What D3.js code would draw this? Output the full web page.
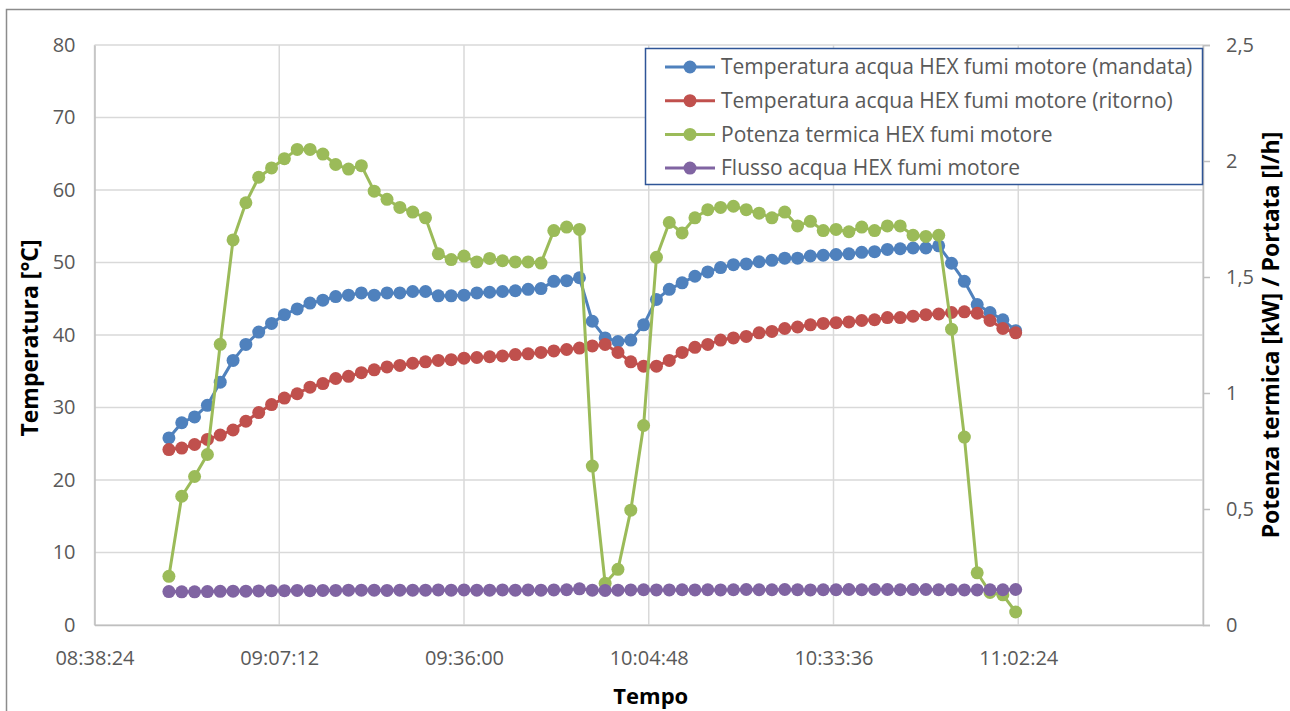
<!DOCTYPE html>
<html>
<head>
<meta charset="utf-8">
<script src="https://cdn.jsdelivr.net/npm/d3@7"></script>
<style>
  html, body { margin: 0; padding: 0; background: #fff; }
  svg { display: block; }
  text { font-family: "Open Sans", "Noto Sans", sans-serif; }
</style>
</head>
<body>
<svg id="chart" width="1290" height="711"></svg>
<script>
// Sampling times (every 2 minutes)
const times = [
  "08:50:00","08:52:00","08:54:00","08:56:00","08:58:00","09:00:00","09:02:00","09:04:00","09:06:00","09:08:00",
  "09:10:00","09:12:00","09:14:00","09:16:00","09:18:00","09:20:00","09:22:00","09:24:00","09:26:00","09:28:00",
  "09:30:00","09:32:00","09:34:00","09:36:00","09:38:00","09:40:00","09:42:00","09:44:00","09:46:00","09:48:00",
  "09:50:00","09:52:00","09:54:00","09:56:00","09:58:00","10:00:00","10:02:00","10:04:00","10:06:00","10:08:00",
  "10:10:00","10:12:00","10:14:00","10:16:00","10:18:00","10:20:00","10:22:00","10:24:00","10:26:00","10:28:00",
  "10:30:00","10:32:00","10:34:00","10:36:00","10:38:00","10:40:00","10:42:00","10:44:00","10:46:00","10:48:00",
  "10:50:00","10:52:00","10:54:00","10:56:00","10:58:00","11:00:00","11:02:00"
];

// Water temperature, exhaust HEX outlet (°C)
const tMandata = [
  25.8, 27.9, 28.7, 30.3, 33.5, 36.5, 38.7, 40.4, 41.6, 42.8,
  43.6, 44.4, 44.8, 45.3, 45.5, 45.8, 45.5, 45.8, 45.8, 46.0,
  46.0, 45.4, 45.4, 45.5, 45.8, 45.9, 46.0, 46.1, 46.3, 46.4,
  47.4, 47.5, 47.9, 41.9, 39.6, 39.1, 39.3, 41.4, 44.9, 46.3,
  47.2, 48.1, 48.7, 49.3, 49.7, 49.8, 50.1, 50.3, 50.6, 50.6,
  50.9, 51.0, 51.1, 51.2, 51.4, 51.5, 51.8, 51.9, 52.0, 52.0,
  52.3, 49.9, 47.4, 44.2, 43.1, 42.1, 40.6
];

// Water temperature, exhaust HEX return (°C)
const tRitorno = [
  24.2, 24.4, 24.9, 25.6, 26.2, 26.9, 28.1, 29.3, 30.4, 31.3,
  31.9, 32.8, 33.3, 34.0, 34.3, 34.8, 35.2, 35.6, 35.8, 36.1,
  36.3, 36.5, 36.6, 36.8, 36.9, 37.0, 37.1, 37.3, 37.4, 37.6,
  37.8, 38.0, 38.2, 38.5, 38.7, 37.6, 36.3, 35.7, 35.7, 36.5,
  37.6, 38.3, 38.7, 39.3, 39.6, 39.8, 40.3, 40.5, 40.9, 41.1,
  41.4, 41.6, 41.7, 41.8, 42.0, 42.1, 42.4, 42.4, 42.6, 42.8,
  42.9, 43.1, 43.2, 43.0, 42.0, 40.9, 40.3
];

// Thermal power recovered by the exhaust HEX (kW)
const potenza = [
  0.21, 0.555, 0.64, 0.735, 1.21, 1.66, 1.82, 1.93, 1.97, 2.01,
  2.05, 2.05, 2.03, 1.985, 1.965, 1.98, 1.87, 1.835, 1.80, 1.78,
  1.755, 1.60, 1.575, 1.59, 1.565, 1.58, 1.57, 1.565, 1.565, 1.56,
  1.70, 1.715, 1.705, 0.685, 0.18, 0.24, 0.495, 0.86, 1.585, 1.735,
  1.69, 1.755, 1.79, 1.80, 1.805, 1.79, 1.775, 1.755, 1.78, 1.72,
  1.74, 1.70, 1.705, 1.695, 1.715, 1.70, 1.72, 1.72, 1.68, 1.675,
  1.68, 1.275, 0.81, 0.225, 0.14, 0.13, 0.056
];

// Water flow through the exhaust HEX (l/h)
const flusso = [
  0.144, 0.143, 0.143, 0.144, 0.145, 0.146, 0.146, 0.147, 0.148, 0.148,
  0.149, 0.148, 0.149, 0.149, 0.150, 0.150, 0.150, 0.149, 0.150, 0.150,
  0.150, 0.151, 0.150, 0.151, 0.150, 0.150, 0.151, 0.150, 0.151, 0.150,
  0.151, 0.152, 0.156, 0.150, 0.149, 0.150, 0.151, 0.152, 0.151, 0.151,
  0.152, 0.151, 0.152, 0.151, 0.152, 0.153, 0.152, 0.152, 0.153, 0.152,
  0.151, 0.152, 0.152, 0.153, 0.152, 0.153, 0.153, 0.152, 0.153, 0.153,
  0.152, 0.152, 0.151, 0.151, 0.152, 0.152, 0.153
];

const xTickLabels = ["08:38:24", "09:07:12", "09:36:00", "10:04:48", "10:33:36", "11:02:24"];
const xDomainLabels = ["08:38:24", "11:31:12"];
const yLeftTicks = [0, 10, 20, 30, 40, 50, 60, 70, 80];
const yRightTicks = [0, 0.5, 1, 1.5, 2, 2.5];

const seriesNames = [
  "Temperatura acqua HEX fumi motore (mandata)",
  "Temperatura acqua HEX fumi motore (ritorno)",
  "Potenza termica HEX fumi motore",
  "Flusso acqua HEX fumi motore"
];
const seriesColors = ["#4f81bd", "#c0504d", "#9bbb59", "#8064a2"];

const parseT = d3.timeParse("%H:%M:%S");
const fmtT = d3.timeFormat("%H:%M:%S");

const svg = d3.select("#chart");
const plot = { left: 94.5, right: 1203, top: 45, bottom: 625 };

const x = d3.scaleTime()
  .domain(xDomainLabels.map(parseT))
  .range([plot.left, plot.right]);
const yL = d3.scaleLinear().domain([0, 80]).range([plot.bottom, plot.top]);
const yR = d3.scaleLinear().domain([0, 2.5]).range([plot.bottom, plot.top]);

// Outer chart frame
svg.append("rect")
  .attr("x", 6.5).attr("y", 9.5)
  .attr("width", 1400).attr("height", 900)
  .attr("fill", "#fff")
  .attr("stroke", "#8c8c8c").attr("stroke-width", 1.5);

const gridColor = "#d9d9d9";
const labelColor = "#595959";

// Horizontal gridlines (left axis)
svg.append("g")
  .selectAll("line")
  .data(yLeftTicks)
  .join("line")
  .attr("x1", plot.left).attr("x2", plot.right)
  .attr("y1", d => yL(d)).attr("y2", d => yL(d))
  .attr("stroke", gridColor).attr("stroke-width", 1.5);

// Vertical gridlines at the time ticks and the end of the axis
svg.append("g")
  .selectAll("line")
  .data(xTickLabels.concat([xDomainLabels[1]]).map(parseT))
  .join("line")
  .attr("x1", d => x(d)).attr("x2", d => x(d))
  .attr("y1", plot.top).attr("y2", plot.bottom)
  .attr("stroke", gridColor).attr("stroke-width", 1.5);

// Axes with library generators
const axisFont = 20;
const xAxis = d3.axisBottom(x)
  .tickValues(xTickLabels.map(parseT))
  .tickFormat(fmtT)
  .tickSize(0)
  .tickPadding(26);
const gx = svg.append("g").attr("transform", `translate(0,${plot.bottom})`).call(xAxis);
gx.select(".domain").attr("stroke", "#bfbfbf").attr("stroke-width", 1.5);
gx.selectAll("text").attr("fill", labelColor).attr("font-size", axisFont)
  .attr("font-family", "'Open Sans', sans-serif");

const yAxisL = d3.axisLeft(yL).tickValues(yLeftTicks).tickSize(0).tickPadding(19);
const gyl = svg.append("g").attr("transform", `translate(${plot.left},0)`).call(yAxisL);
gyl.select(".domain").attr("stroke", "#bfbfbf").attr("stroke-width", 1.5);
gyl.selectAll("text").attr("fill", labelColor).attr("font-size", axisFont)
  .attr("font-family", "'Open Sans', sans-serif");

const fmtComma = d => d3.format("~g")(d).replace(".", ",");
const yAxisR = d3.axisRight(yR).tickValues(yRightTicks).tickFormat(fmtComma)
  .tickSize(7).tickPadding(16);
const gyr = svg.append("g").attr("transform", `translate(${plot.right},0)`).call(yAxisR);
gyr.select(".domain").attr("stroke", "#bfbfbf").attr("stroke-width", 1.5);
gyr.selectAll(".tick line").attr("stroke", "#bfbfbf").attr("stroke-width", 1.5);
gyr.selectAll("text").attr("fill", labelColor).attr("font-size", axisFont)
  .attr("font-family", "'Open Sans', sans-serif");

// Axis titles
svg.append("text")
  .attr("transform", `translate(38,338) rotate(-90)`)
  .attr("text-anchor", "middle")
  .attr("font-size", 23).attr("font-weight", "bold").attr("fill", "#000")
  .text("Temperatura [°C]");

svg.append("text")
  .attr("x", (plot.left + plot.right) / 2 + 2).attr("y", 704)
  .attr("text-anchor", "middle")
  .attr("font-size", 22).attr("font-weight", "bold").attr("fill", "#000")
  .text("Tempo");

svg.append("text")
  .attr("transform", `translate(1279,335) rotate(-90)`)
  .attr("text-anchor", "middle")
  .attr("font-size", 23).attr("font-weight", "bold").attr("fill", "#000")
  .text("Potenza termica [kW] / Portata [l/h]");

// Series
const timesParsed = times.map(parseT);
const seriesData = [
  { values: tMandata, scale: yL },
  { values: tRitorno, scale: yL },
  { values: potenza, scale: yR },
  { values: flusso, scale: yR }
];

const markerR = 6.5;
seriesData.forEach((s, k) => {
  const pts = s.values.map((v, i) => [timesParsed[i], v]);
  const line = d3.line().x(d => x(d[0])).y(d => s.scale(d[1]));
  const g = svg.append("g");
  g.append("path")
    .datum(pts)
    .attr("d", line)
    .attr("fill", "none")
    .attr("stroke", seriesColors[k])
    .attr("stroke-width", 3)
    .attr("stroke-linejoin", "round");
  g.selectAll("circle")
    .data(pts)
    .join("circle")
    .attr("cx", d => x(d[0]))
    .attr("cy", d => s.scale(d[1]))
    .attr("r", markerR)
    .attr("fill", seriesColors[k]);
});

// Legend
const legend = svg.append("g");
legend.append("rect")
  .attr("x", 645.5).attr("y", 48.5)
  .attr("width", 557).attr("height", 136)
  .attr("fill", "#fff")
  .attr("stroke", "#2f5597").attr("stroke-width", 1.5);
seriesNames.forEach((name, k) => {
  const cy = 67 + k * 33.7;
  legend.append("line")
    .attr("x1", 665).attr("x2", 715).attr("y1", cy).attr("y2", cy)
    .attr("stroke", seriesColors[k]).attr("stroke-width", 3);
  legend.append("circle")
    .attr("cx", 690).attr("cy", cy).attr("r", markerR)
    .attr("fill", seriesColors[k]);
  legend.append("text")
    .attr("x", 721).attr("y", cy)
    .attr("dy", "0.35em")
    .attr("font-size", 21).attr("fill", labelColor)
    .text(name);
});
</script>
</body>
</html>
